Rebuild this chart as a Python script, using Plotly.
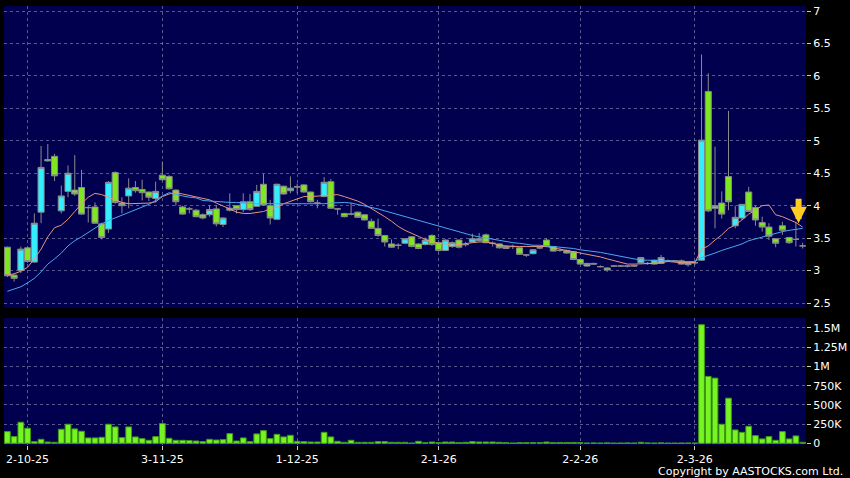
import plotly.graph_objects as go
from plotly.subplots import make_subplots

# trading days shown (d-m-yy)
sep_days = [26, 29, 30]
oct_days = [2, 3, 6, 8, 9, 10, 13, 14, 15, 16, 17, 20, 21, 22, 23, 24, 27, 28, 30, 31]
nov_days = [3, 4, 5, 6, 7, 10, 11, 12, 13, 14, 17, 18, 19, 20, 21, 24, 25, 26, 27, 28]
dec_days = [1, 2, 3, 4, 5, 8, 9, 10, 11, 12, 15, 16, 17, 18, 19, 22, 23, 24, 29, 30, 31]
jan_days = [2, 5, 6, 7, 8, 9, 12, 13, 14, 15, 16, 19, 20, 21, 22, 23, 26, 27, 28, 29, 30]
feb_days = [2, 3, 4, 5, 6, 9, 10, 11, 12, 13, 16, 20, 23, 24, 25, 26, 27]
mar_days = [2, 3, 4, 5, 6, 9, 10, 11, 12, 13, 16, 17, 18, 19, 20, 23, 24]

dates = ([f"{d}-9-25" for d in sep_days] + [f"{d}-10-25" for d in oct_days]
         + [f"{d}-11-25" for d in nov_days] + [f"{d}-12-25" for d in dec_days]
         + [f"{d}-1-26" for d in jan_days] + [f"{d}-2-26" for d in feb_days]
         + [f"{d}-3-26" for d in mar_days])

tick_labels = ["2-10-25", "3-11-25", "1-12-25", "2-1-26", "2-2-26", "2-3-26"]

opens = [3.36, 2.93, 3.00, 3.35, 3.13, 3.90, 4.69, 4.76, 3.92, 4.22,
         4.24, 4.28, 3.97, 3.98, 3.72, 3.64, 4.51, 4.04, 4.15, 4.28,
         4.25, 4.21, 4.11, 4.47, 4.45, 4.24, 3.98, 3.95, 3.93, 3.86,
         3.86, 3.95, 3.71, 3.93, 4.00, 3.94, 4.06, 3.99, 4.33, 4.00,
         3.79, 4.30, 4.23, 4.29, 4.32, 4.21, 4.04, 4.14, 4.37, 3.95,
         3.88, 3.87, 3.90, 3.86, 3.76, 3.65, 3.54, 3.41, 3.39, 3.42,
         3.52, 3.41, 3.40, 3.54, 3.43, 3.31, 3.37, 3.47, 3.40, 3.44,
         3.46, 3.55, 3.42, 3.41, 3.37, 3.37, 3.35, 3.24, 3.26, 3.35,
         3.47, 3.37, 3.31, 3.31, 3.29, 3.17, 3.07, 3.11, 3.06, 3.04,
         3.07, 3.07, 3.07, 3.08, 3.12, 3.11, 3.16, 3.11, 3.15, 3.15,
         3.15, 3.09, 3.12, 3.16, 5.76, 3.96, 4.04, 4.45, 3.69, 3.81,
         4.21, 3.97, 3.74, 3.67, 3.49, 3.69, 3.51, 3.48, 3.38]
highs = [3.37, 2.94, 3.37, 3.37, 3.88, 4.92, 4.95, 4.80, 4.31, 4.62,
         4.78, 4.55, 4.00, 4.05, 3.74, 4.38, 4.53, 4.13, 4.42, 4.38,
         4.40, 4.22, 4.37, 4.68, 4.47, 4.25, 4.00, 3.98, 3.95, 3.88,
         4.01, 4.01, 3.82, 4.19, 4.01, 4.19, 4.18, 4.32, 4.49, 4.09,
         4.34, 4.31, 4.45, 4.34, 4.33, 4.22, 4.09, 4.44, 4.41, 3.96,
         3.89, 4.04, 3.91, 3.87, 3.80, 3.80, 3.55, 3.48, 3.42, 3.50,
         3.53, 3.42, 3.51, 3.56, 3.45, 3.48, 3.45, 3.48, 3.44, 3.57,
         3.58, 3.57, 3.45, 3.42, 3.39, 3.40, 3.36, 3.25, 3.33, 3.37,
         3.50, 3.38, 3.34, 3.32, 3.30, 3.18, 3.12, 3.12, 3.08, 3.05,
         3.08, 3.08, 3.08, 3.09, 3.21, 3.13, 3.17, 3.24, 3.17, 3.16,
         3.17, 3.14, 3.13, 6.33, 6.04, 4.91, 4.22, 5.46, 4.00, 4.02,
         4.29, 4.00, 3.83, 3.73, 3.50, 3.75, 3.52, 3.75, 3.43]
lows = [2.90, 2.83, 2.96, 3.12, 3.12, 3.73, 4.68, 4.38, 3.88, 4.13,
        4.15, 3.86, 3.74, 3.72, 3.48, 3.58, 4.03, 3.88, 3.96, 4.20,
        4.08, 4.07, 4.05, 4.38, 4.25, 4.00, 3.86, 3.88, 3.82, 3.79,
        3.83, 3.68, 3.67, 3.91, 3.88, 3.90, 3.92, 3.98, 4.00, 3.71,
        3.78, 4.17, 4.19, 4.19, 4.20, 4.05, 3.96, 4.13, 3.95, 3.86,
        3.82, 3.85, 3.81, 3.77, 3.64, 3.52, 3.37, 3.35, 3.33, 3.41,
        3.36, 3.33, 3.39, 3.38, 3.29, 3.30, 3.35, 3.34, 3.37, 3.43,
        3.45, 3.42, 3.37, 3.34, 3.33, 3.33, 3.24, 3.21, 3.25, 3.33,
        3.36, 3.29, 3.29, 3.26, 3.16, 3.09, 3.06, 3.09, 3.05, 2.98,
        3.06, 3.06, 3.05, 3.06, 3.11, 3.09, 3.09, 3.10, 3.13, 3.13,
        3.09, 3.06, 3.08, 3.15, 3.90, 3.65, 3.80, 3.93, 3.65, 3.78,
        3.90, 3.69, 3.60, 3.47, 3.36, 3.55, 3.41, 3.37, 3.34]
closes = [2.92, 2.88, 3.33, 3.14, 3.73, 4.59, 4.71, 4.46, 4.15, 4.50,
          4.18, 3.87, 3.97, 3.73, 3.51, 4.36, 4.05, 4.00, 4.27, 4.23,
          4.20, 4.13, 4.22, 4.40, 4.26, 4.06, 3.87, 3.95, 3.83, 3.81,
          3.94, 3.72, 3.81, 3.96, 3.94, 4.06, 3.94, 4.22, 4.01, 3.81,
          4.33, 4.18, 4.27, 4.29, 4.21, 4.06, 4.04, 4.36, 3.96, 3.95,
          3.83, 3.87, 3.82, 3.78, 3.65, 3.54, 3.44, 3.36, 3.39, 3.49,
          3.37, 3.34, 3.47, 3.40, 3.31, 3.47, 3.43, 3.36, 3.40, 3.49,
          3.49, 3.43, 3.42, 3.35, 3.34, 3.37, 3.25, 3.24, 3.32, 3.35,
          3.37, 3.30, 3.31, 3.27, 3.17, 3.10, 3.11, 3.10, 3.06, 3.01,
          3.07, 3.07, 3.07, 3.07, 3.20, 3.11, 3.10, 3.20, 3.15, 3.15,
          3.10, 3.13, 3.12, 5.01, 3.92, 4.00, 3.87, 4.06, 3.82, 4.02,
          3.91, 3.78, 3.67, 3.53, 3.42, 3.62, 3.43, 3.48, 3.38]

ma10 = [2.93, 2.95, 2.99, 3.05, 3.18, 3.33, 3.52, 3.66, 3.70, 3.79,
        3.91, 4.03, 4.13, 4.19, 4.17, 4.13, 4.08, 4.05, 4.03, 4.03,
        4.03, 4.04, 4.06, 4.14, 4.18, 4.20, 4.18, 4.16, 4.13, 4.12,
        4.09, 4.04, 4.00, 3.95, 3.90, 3.88, 3.88, 3.89, 3.91, 3.95,
        3.98, 4.03, 4.07, 4.11, 4.14, 4.14, 4.15, 4.15, 4.16, 4.17,
        4.14, 4.11, 4.07, 4.02, 3.96, 3.90, 3.83, 3.76, 3.68, 3.62,
        3.57, 3.52, 3.48, 3.45, 3.42, 3.41, 3.39, 3.40, 3.42, 3.43,
        3.44, 3.44, 3.42, 3.39, 3.38, 3.37, 3.37, 3.37, 3.37, 3.37,
        3.37, 3.35, 3.33, 3.31, 3.29, 3.27, 3.25, 3.24, 3.21, 3.18,
        3.15, 3.12, 3.10, 3.10, 3.10, 3.10, 3.11, 3.12, 3.14, 3.13,
        3.12, 3.13, 3.12, 3.33, 3.38, 3.47, 3.55, 3.65, 3.70, 3.78,
        3.87, 3.93, 4.00, 4.01, 3.86, 3.83, 3.79, 3.74, 3.67]
ma20 = [2.68, 2.71, 2.75, 2.81, 2.88, 2.98, 3.10, 3.18, 3.27, 3.38,
        3.46, 3.52, 3.59, 3.66, 3.72, 3.77, 3.81, 3.86, 3.90, 3.93,
        3.97, 4.02, 4.08, 4.15, 4.20, 4.17, 4.15, 4.13, 4.12, 4.08,
        4.07, 4.06, 4.06, 4.05, 4.05, 4.04, 4.04, 4.03, 4.03, 4.03,
        4.03, 4.02, 4.02, 4.02, 4.02, 4.02, 4.03, 4.03, 4.04, 4.05,
        4.05, 4.04, 4.02, 4.00, 3.98, 3.95, 3.92, 3.89, 3.86, 3.83,
        3.80, 3.77, 3.74, 3.71, 3.68, 3.65, 3.62, 3.59, 3.56, 3.54,
        3.52, 3.50, 3.49, 3.47, 3.45, 3.43, 3.42, 3.40, 3.39, 3.39,
        3.38, 3.38, 3.37, 3.36, 3.34, 3.32, 3.31, 3.30, 3.28, 3.26,
        3.24, 3.21, 3.19, 3.17, 3.16, 3.16, 3.15, 3.15, 3.15, 3.14,
        3.14, 3.14, 3.14, 3.20, 3.23, 3.27, 3.31, 3.34, 3.37, 3.41,
        3.46, 3.49, 3.52, 3.55, 3.58, 3.60, 3.62, 3.63, 3.65]

volumes = [152000, 87000, 274000, 196000, 22000, 52000, 17000, 13000, 183000, 248000,
           187000, 157000, 70000, 70000, 78000, 248000, 213000, 74000, 213000, 83000,
           61000, 39000, 87000, 257000, 65000, 39000, 39000, 35000, 30000, 22000,
           52000, 43000, 48000, 126000, 30000, 70000, 22000, 122000, 165000, 61000,
           117000, 83000, 104000, 26000, 22000, 17000, 17000, 143000, 83000, 26000,
           13000, 39000, 13000, 13000, 13000, 22000, 22000, 13000, 13000, 13000,
           4000, 26000, 8000, 17000, 9000, 17000, 17000, 9000, 13000, 22000,
           17000, 17000, 17000, 13000, 9000, 4000, 9000, 9000, 9000, 9000,
           17000, 9000, 11000, 11000, 11000, 9000, 4000, 5000, 4000, 6000,
           3000, 4000, 5000, 4000, 13000, 5000, 4000, 6000, 3000, 3000,
           4000, 4000, 4000, 1543000, 870000, 848000, 248000, 587000, 174000, 143000,
           222000, 100000, 57000, 87000, 39000, 152000, 57000, 96000, 13000]

price_ticks = [2.5, 3, 3.5, 4, 4.5, 5, 5.5, 6, 6.5, 7]
vol_ticks = [0, 250000, 500000, 750000, 1000000, 1250000, 1500000]
vol_tick_text = ["0", "250K", "500K", "750K", "1M", "1.25M", "1.5M"]

grid = "rgba(160,160,200,0.55)"

fig = make_subplots(rows=2, cols=1, shared_xaxes=True,
                    vertical_spacing=10 / 439, row_heights=[302, 127])

fig.add_trace(go.Candlestick(
    x=dates, open=opens, high=highs, low=lows, close=closes,
    increasing=dict(line=dict(color="#8a8a8a", width=1), fillcolor="#33EEFF"),
    decreasing=dict(line=dict(color="#8a8a8a", width=1), fillcolor="#7FE620"),
    whiskerwidth=0, hoverinfo="skip"
), row=1, col=1)

fig.add_trace(go.Scatter(x=dates, y=ma10, mode="lines",
                         line=dict(color="#E8967A", width=1)), row=1, col=1)
fig.add_trace(go.Scatter(x=dates, y=ma20, mode="lines",
                         line=dict(color="#4AA8EE", width=1)), row=1, col=1)

fig.add_trace(go.Bar(x=dates, y=volumes, marker_color="#77F522",
                     marker_line=dict(color="#3f9a12", width=1)), row=2, col=1)

fig.update_xaxes(type="category", range=[-0.5, 118.5], tickvals=tick_labels,
                 showgrid=True, gridcolor=grid, griddash="dot", gridwidth=1,
                 zeroline=False, showline=False, rangeslider_visible=False)
fig.update_xaxes(showticklabels=False, ticks="", row=1, col=1)
fig.update_xaxes(showticklabels=True, ticks="outside", ticklen=4,
                 tickcolor="#cccccc", row=2, col=1)

fig.update_yaxes(side="right", showgrid=True, gridcolor=grid, griddash="dot",
                 zeroline=False, showline=False, ticks="outside", ticklen=4,
                 tickcolor="#cccccc")
fig.update_yaxes(range=[2.423, 7.077], tickvals=price_ticks,
                 ticktext=[f"{v:g}" for v in price_ticks], row=1, col=1)
fig.update_yaxes(range=[-22000, 1630000], tickvals=vol_ticks,
                 ticktext=vol_tick_text, row=2, col=1)

fig.add_annotation(x=117.4, y=3.73, xref="x", yref="y", ax=0, ay=-26,
                   showarrow=True, arrowhead=2, arrowwidth=6, arrowsize=0.55,
                   arrowcolor="#FFCC22", text="")

fig.add_annotation(text="Copyright by AASTOCKS.com Ltd.", xref="paper", yref="paper",
                   x=1.0486, y=-0.0615, xanchor="right", yanchor="middle",
                   showarrow=False, font=dict(size=11, color="white"))

fig.update_layout(
    width=850, height=478,
    margin=dict(l=4, r=44, t=6, b=33),
    paper_bgcolor="black", plot_bgcolor="#00004F",
    showlegend=False, boxgap=0.1, boxgroupgap=0, bargap=0.15,
    font=dict(family="DejaVu Sans", size=11, color="white"),
)

# the page's default body margin would shift the chart; remove it
fig.write_html("out.html", config={"displayModeBar": False},
               post_script="document.body.style.margin='0';"
                           "document.body.style.background='black';")
